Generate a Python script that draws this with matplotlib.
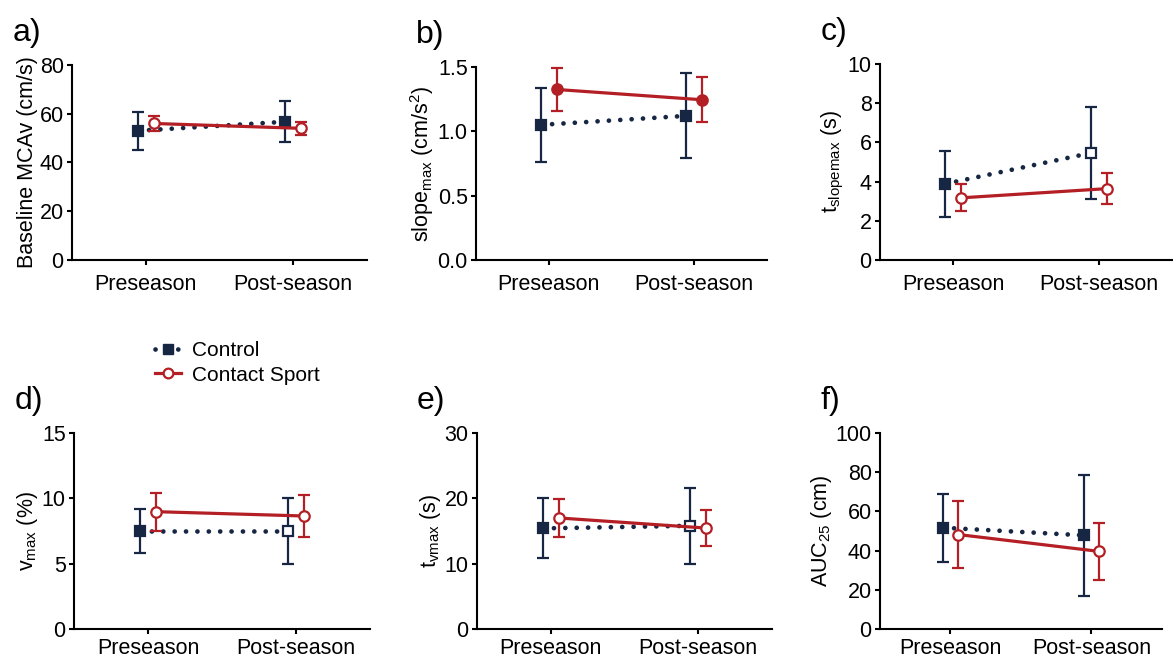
import matplotlib
matplotlib.use("Agg")
import matplotlib.pyplot as plt
from matplotlib.lines import Line2D

plt.rcParams["font.family"] = ["Liberation Sans", "DejaVu Sans"]
plt.rcParams["mathtext.fontset"] = "custom"
plt.rcParams["mathtext.rm"] = "Liberation Sans"
plt.rcParams["mathtext.it"] = "Liberation Sans:italic"

NAVY = "#162643"
RED = "#b31f24"

timepoints = ["Preseason", "Post-season"]

# means and SD per panel: [pre, post]
ctrl_mean = {
    "a": [53.0, 56.7], "b": [1.05, 1.12], "c": [3.88, 5.46],
    "d": [7.5, 7.5], "e": [15.4, 15.8], "f": [51.7, 47.8],
}
ctrl_sd = {
    "a": [7.9, 8.5], "b": [0.285, 0.33], "c": [1.7, 2.35],
    "d": [1.7, 2.5], "e": [4.6, 5.8], "f": [17.3, 30.8],
}
sport_mean = {
    "a": [56.0, 54.0], "b": [1.325, 1.245], "c": [3.17, 3.64],
    "d": [8.98, 8.65], "e": [17.0, 15.45], "f": [48.2, 39.6],
}
sport_sd = {
    "a": [2.9, 2.6], "b": [0.165, 0.175], "c": [0.69, 0.78],
    "d": [1.45, 1.6], "e": [2.85, 2.75], "f": [17.0, 14.5],
}
# marker fill (1 = filled) for [pre, post]
ctrl_filled = {"a": [1, 1], "b": [1, 1], "c": [1, 0], "d": [1, 0], "e": [1, 0], "f": [1, 1]}
sport_filled = {"a": [0, 0], "b": [1, 1], "c": [0, 0], "d": [0, 0], "e": [0, 0], "f": [0, 0]}

ylabels = {
    "a": "Baseline MCAv (cm/s)",
    "b": r"slope$_\mathrm{max}$ (cm/s$^\mathrm{2}$)",
    "c": r"t$_\mathrm{slopemax}$ (s)",
    "d": r"v$_\mathrm{max}$ (%)",
    "e": r"t$_\mathrm{vmax}$ (s)",
    "f": r"AUC$_\mathrm{25}$ (cm)",
}
yticks = {
    "a": [0, 20, 40, 60, 80],
    "b": [0.0, 0.5, 1.0, 1.5],
    "c": [0, 2, 4, 6, 8, 10],
    "d": [0, 5, 10, 15],
    "e": [0, 10, 20, 30],
    "f": [0, 20, 40, 60, 80, 100],
}

positions = {
    "a": [0.0614, 0.6067, 0.2515, 0.2950],
    "b": [0.4058, 0.6067, 0.2480, 0.2920],
    "c": [0.7502, 0.6067, 0.2490, 0.2965],
    "d": [0.0631, 0.0484, 0.2523, 0.2965],
    "e": [0.4066, 0.0484, 0.2514, 0.2965],
    "f": [0.7502, 0.0484, 0.2404, 0.2965],
}

DOT = (0, (0.01, 2.4))
OFF = 0.055

fig = plt.figure(figsize=(11.73, 6.61), dpi=100)

for key in ["a", "b", "c", "d", "e", "f"]:
    ax = fig.add_axes(positions[key])
    xc = [0 - OFF, 1 - OFF]
    xs = [0 + OFF, 1 + OFF]

    ax.plot(xc, ctrl_mean[key], linestyle=DOT, color=NAVY, lw=3.4,
            dash_capstyle="round", zorder=2)
    ax.errorbar(xc, ctrl_mean[key], yerr=ctrl_sd[key], fmt="none", ecolor=NAVY,
                elinewidth=1.6, capsize=4, capthick=1.6, zorder=3)
    for x, y, f in zip(xc, ctrl_mean[key], ctrl_filled[key]):
        ax.plot(x, y, marker="s", ms=7.5, mec=NAVY, mew=1.6,
                mfc=NAVY if f else "white", zorder=4)

    ax.plot(xs, sport_mean[key], "-", color=RED, lw=2.3, zorder=5)
    ax.errorbar(xs, sport_mean[key], yerr=sport_sd[key], fmt="none", ecolor=RED,
                elinewidth=1.6, capsize=4, capthick=1.6, zorder=5)
    for x, y, f in zip(xs, sport_mean[key], sport_filled[key]):
        ax.plot(x, y, marker="o", ms=7.5, mec=RED, mew=1.6,
                mfc=RED if f else "white", zorder=6)

    ax.set_xlim(-0.5, 1.5)
    ax.set_ylim(yticks[key][0], yticks[key][-1])
    ax.set_yticks(yticks[key])
    if key == "b":
        ax.set_yticklabels([f"{t:.1f}" for t in yticks[key]])
    ax.set_xticks([0, 1])
    ax.set_xticklabels(timepoints)
    ax.spines["top"].set_visible(False)
    ax.spines["right"].set_visible(False)
    for s in ["left", "bottom"]:
        ax.spines[s].set_linewidth(1.5)
    ax.tick_params(axis="both", labelsize=15.5, width=1.5, length=3.5,
                   pad=2.5, direction="out")
    ax.tick_params(axis="x", pad=6.5 if key in "abc" else 3.0)
    ax.set_ylabel(ylabels[key], fontsize=15.5, labelpad=1)
    for art in ax.get_children():
        try:
            art.set_clip_on(False)
        except Exception:
            pass

    px, py = positions[key][0], positions[key][1] + positions[key][3]
    fig.text(px - 0.051, py + 0.025, f"{key})", fontsize=23, ha="left", va="bottom")

handles = [
    Line2D([], [], linestyle=DOT, color=NAVY, lw=3.4, dash_capstyle="round",
           marker="s", ms=7, mfc=NAVY, mec=NAVY),
    Line2D([], [], linestyle="-", color=RED, lw=2.3,
           marker="o", ms=7, mfc="white", mec=RED, mew=1.6),
]
fig.legend(handles, ["Control", "Contact Sport"], loc="upper left",
           bbox_to_anchor=(0.116, 0.512), frameon=False, fontsize=15,
           handlelength=1.25, handletextpad=0.55, labelspacing=0.25)

fig.savefig("out.png", dpi=100)
